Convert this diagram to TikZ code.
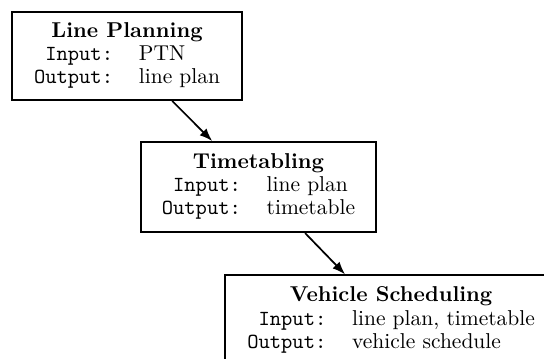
\documentclass[tikz,border=0pt]{standalone}
\usetikzlibrary{calc,arrows.meta}
\newcommand\stagecontent[3]{%
  \renewcommand\arraystretch{0.9}%
  \begin{tabular}{@{}r@{\hspace{12pt}}l@{}}
    \multicolumn{2}{@{}c@{}}{\bfseries #1}\\
    \texttt{Input:} & #2\\
    \texttt{Output:} & #3
  \end{tabular}}
\begin{document}
\begin{tikzpicture}[x=1pt,y=1pt,
  stage/.style={draw,line width=0.8pt,minimum height=42pt,inner sep=0pt,align=center},
  flow/.style={-{Latex[length=6pt,width=4.5pt]},line width=0.8pt}]
  \useasboundingbox (0,0) rectangle (253,-166.5);
  \clip (0,0) rectangle (253,-166.5);
  \node[stage,minimum width=107pt,minimum height=41pt] (lp) at (59.1,-26.05)
    {\stagecontent{Line Planning}{PTN}{line plan}};
  \node[stage,minimum width=109pt] (tt) at (120.2,-87)
    {\stagecontent{Timetabling}{line plan}{timetable}};
  \node[stage,minimum width=154.4pt] (vs) at (181.9,-149)
    {\stagecontent{Vehicle Scheduling}{line plan, timetable}{vehicle schedule}};
  \draw[flow] ($(lp.south)+(21,0)$) -- ($(tt.north)+(-21.5,0)$);
  \draw[flow] ($(tt.south)+(21.7,0)$) -- ($(vs.north)+(-21.4,0)$);
\end{tikzpicture}
\end{document}
